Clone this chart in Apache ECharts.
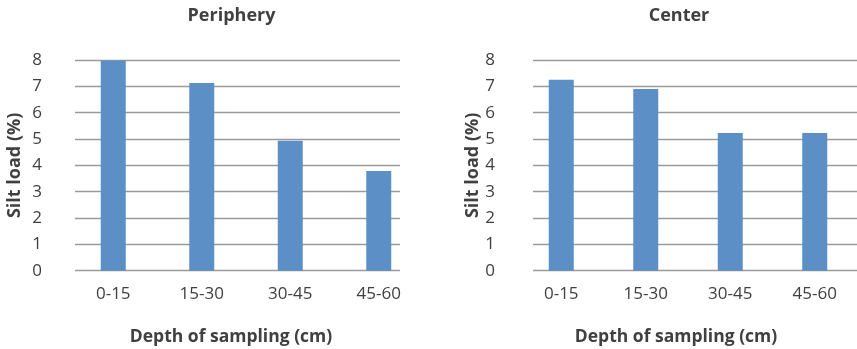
<!DOCTYPE html>
<html><head><meta charset="utf-8">
<script src="https://cdn.jsdelivr.net/npm/echarts@6/dist/echarts.min.js"></script>
<style>html,body{margin:0;padding:0;background:#fff}#c{width:857px;height:349px}</style>
</head><body><div id="c"></div>
<script>
const categories = ['0-15', '15-30', '30-45', '45-60'];
const peripheryValues = [7.98, 7.13, 4.93, 3.79];
const centerValues = [7.25, 6.9, 5.23, 5.23];
const yTicks = [0, 1, 2, 3, 4, 5, 6, 7, 8];
const titles = ['Periphery', 'Center'];
const yName = 'Silt load (%)';
const xName = 'Depth of sampling (cm)';

const FONT = '"Open Sans", "Noto Sans", sans-serif';
const TXT = '#404040';
const GRIDC = '#9a9a9a';
const BAR = '#5b8fc6';
const TOP = 60, BOTTOM = 349 - 270.7;

const chart = echarts.init(document.getElementById('c'));

const grids = [
  {left: 69, width: 354, top: TOP, bottom: BOTTOM},
  {left: 75, width: 325, top: TOP, bottom: BOTTOM},
  {left: 519, width: 340, top: TOP, bottom: BOTTOM},
  {left: 533, width: 324, top: TOP, bottom: BOTTOM}
];

function barX(gi){
  return {gridIndex: gi, type: 'category', data: categories,
    axisLine: {show: false}, axisTick: {show: false},
    axisLabel: {color: TXT, fontSize: 17, fontFamily: FONT, margin: 15}};
}
function lineX(gi){
  return {gridIndex: gi, type: 'category', data: categories, show: false};
}
function barY(gi){
  return {gridIndex: gi, type: 'value', min: 0, max: 8, interval: 1, show: false, splitLine: {show: false}};
}
function lineY(gi, labelMargin){
  return {gridIndex: gi, type: 'value', min: 0, max: 8, interval: 1,
    axisLine: {show: false}, axisTick: {show: false},
    axisLabel: {color: TXT, fontSize: 17, fontFamily: FONT, margin: labelMargin,
      formatter: v => yTicks.includes(v) ? String(v) : ''},
    splitLine: {lineStyle: {color: GRIDC, width: 1.3}},
    name: yName, nameLocation: 'middle', nameGap: 51, nameRotate: 90,
    nameTextStyle: {color: TXT, fontSize: 18, fontWeight: 'bold', fontFamily: FONT}};
}

function txt(x, y, s, size){
  return {type: 'text', x: x, y: y, style: {text: s, fill: TXT, font: 'bold ' + size + 'px ' + FONT, textAlign: 'center', textVerticalAlign: 'middle'}};
}

chart.setOption({
  animation: false,
  grid: grids,
  xAxis: [barX(0), lineX(1), barX(2), lineX(3)],
  yAxis: [barY(0), lineY(1, 33), barY(2), lineY(3, 38)],
  series: [
    {type: 'bar', xAxisIndex: 0, yAxisIndex: 0, data: peripheryValues, barWidth: 25, itemStyle: {color: BAR}, z: 3},
    {type: 'bar', xAxisIndex: 2, yAxisIndex: 2, data: centerValues, barWidth: 25, itemStyle: {color: BAR}, z: 3}
  ],
  graphic: [
    txt(231.5, 16, titles[0], 18),
    txt(679, 16, titles[1], 18),
    txt(231, 337, xName, 17.5),
    txt(676, 337, xName, 17.5)
  ]
});
</script></body></html>
